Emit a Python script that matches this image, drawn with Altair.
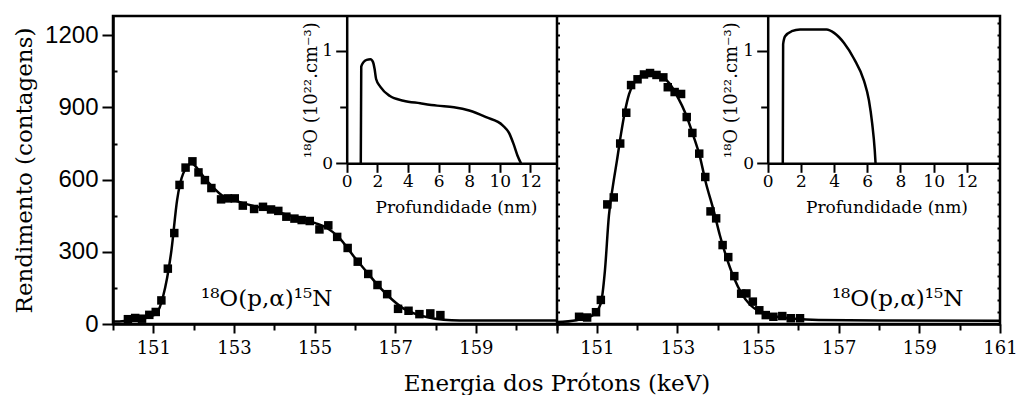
import altair as alt
import pandas as pd

# ---------------- data ----------------
LEFT_E = [150.37, 150.55, 150.72, 150.9, 151.06, 151.2, 151.36, 151.52, 151.65, 151.8,
          151.97, 152.12, 152.28, 152.44, 152.68, 152.85, 153.02, 153.22, 153.5, 153.72,
          153.92, 154.1, 154.3, 154.5, 154.68, 154.88, 155.12, 155.34, 155.56, 155.82,
          156.07, 156.33, 156.56, 156.8, 157.07, 157.33, 157.6, 157.87, 158.12]
LEFT_C = [20, 25, 22, 38, 50, 98, 230, 378, 578, 650,
          676, 630, 598, 565, 518, 522, 522, 492, 478, 487,
          476, 470, 446, 438, 432, 428, 393, 410, 362, 316,
          259, 208, 162, 124, 63, 55, 41, 44, 37]

LFIT_E = [150.0, 150.5, 150.9, 151.08, 151.24, 151.45, 151.59, 151.74, 151.95, 152.1,
          152.3, 152.5, 152.7, 153.0, 153.5, 154.0, 154.5, 155.0, 155.3, 155.6,
          156.0, 156.3, 156.6, 156.9, 157.2, 157.5, 157.8, 158.2, 158.6, 159.5, 161.0]
LFIT_C = [10, 16, 30, 44, 113, 307, 515, 625, 667, 645,
          600, 565, 535, 515, 490, 470, 445, 420, 400, 360,
          275, 215, 155, 105, 65, 42, 28, 18, 15, 15, 15]

RIGHT_E = [150.56, 150.76, 150.98, 151.1, 151.26, 151.42, 151.58, 151.73, 151.85, 152.01,
           152.17, 152.32, 152.48, 152.65, 152.76, 152.93, 153.09, 153.23, 153.37, 153.54,
           153.69, 153.82, 153.96, 154.12, 154.26, 154.41, 154.58, 154.71, 154.87, 155.03,
           155.19, 155.38, 155.6, 155.81, 156.04]
RIGHT_C = [30, 27, 49, 100, 497, 526, 750, 878, 993, 1017,
           1037, 1043, 1035, 1025, 984, 964, 956, 860, 794, 708,
           611, 468, 439, 328, 278, 199, 126, 127, 93, 57,
           37, 30, 33, 24, 24]

RFIT_E = [150.0, 150.5, 150.9, 151.1, 151.2, 151.3, 151.4, 151.5, 151.6, 151.7,
          151.8, 151.9, 152.05, 152.3, 152.5, 152.65, 152.8, 153.0, 153.2, 153.4,
          153.55, 153.7, 153.9, 154.05, 154.2, 154.4, 154.6, 154.8, 155.05, 155.4,
          155.9, 156.5, 158.0, 161.0]
RFIT_C = [8, 16, 37, 86, 220, 450, 575, 680, 790, 885,
          955, 995, 1028, 1045, 1040, 1025, 1000, 945, 875, 780,
          700, 590, 470, 370, 285, 192, 124, 80, 50, 32,
          22, 17, 15, 14]

LIN_D = [0.92, 0.95, 1.1, 1.3, 1.55, 1.72, 1.82, 1.92, 2.2, 2.8, 3.7, 4.8, 5.9, 7.0,
         8.0, 9.1, 10.2, 10.6, 10.9, 11.15, 11.38]
LIN_C = [0, 0.86, 0.9, 0.92, 0.925, 0.9, 0.84, 0.75, 0.68, 0.6, 0.557, 0.534, 0.513, 0.498,
         0.469, 0.41, 0.336, 0.27, 0.17, 0.07, 0]

RIN_D = [0.91, 0.93, 1.05, 1.45, 1.95, 3.0, 3.55, 4.0, 4.6, 5.2, 5.8, 6.1, 6.3, 6.45, 6.5]
RIN_C = [0, 1.06, 1.13, 1.175, 1.19, 1.19, 1.19, 1.16, 1.07, 0.93, 0.735, 0.56, 0.35, 0.12, 0]

ANNOT = "¹⁸O(p,α)¹⁵N"
ANNOT_E = [153.81, 158.46]
ANNOT_C = [75, 75]

X_TITLE = "Energia dos Prótons (keV)"
Y_TITLE = "Rendimento (contagens)"
INSET_X_TITLE = "Profundidade (nm)"
INSET_Y_TITLE = "¹⁸O (10²².cm⁻³)"

# ---------------- layout constants ----------------
W = 887
H = 308
LW = 443.5
YMAX = 1280
H_IN = 147.3
SERIF = "DejaVu Serif"
SANS = "Liberation Sans"
AX = dict(domainColor="black", domainWidth=2.5, tickColor="black", tickWidth=2,
          labelColor="black", titleColor="black", grid=False, titleFontWeight="normal",
          labelFontWeight="normal")


def xs(rng):
    return alt.Scale(domain=[150, 161], range=rng, nice=False, zero=False)


def ys():
    return alt.Scale(domain=[0, YMAX], range=[H, 0], nice=False, zero=False)


ODD_TICK = {"condition": {"test": "datum.value % 2 == 1", "value": 9}, "value": 6}

left_x_axis = alt.Axis(values=list(range(150, 162)),
                       labelExpr="(datum.value % 2 == 1 && datum.value < 160) ? datum.label : ''",
                       tickSize=ODD_TICK, labelFont=SERIF, labelFontSize=18, labelPadding=6,
                       labelFlush=False, labelOverlap=False, orient="bottom",
                       title=X_TITLE, titleFont=SERIF, titleFontSize=23, titleX=LW, titleY=66,
                       titleAlign="center", titleBaseline="alphabetic", **AX)
right_x_axis = alt.Axis(values=list(range(150, 162)),
                        labelExpr="datum.value % 2 == 1 ? datum.label : ''",
                        tickSize=ODD_TICK, labelFont=SERIF, labelFontSize=18, labelPadding=6,
                        labelFlush=False, labelOverlap=False, orient="bottom", title=None, **AX)
left_y_axis = alt.Axis(values=[0, 300, 600, 900, 1200], format="d", tickSize=11, labelPadding=4,
                       labelFont=SANS, labelFontSize=24, orient="left",
                       title=Y_TITLE, titleFont=SERIF, titleFontSize=23, titleX=-82, titleY=H / 2,
                       titleAlign="center", titleBaseline="alphabetic", **AX)
right_y_axis = alt.Axis(values=list(range(0, 1251, 50)), tickSize=3, labels=False,
                        orient="right", offset=-(W - LW), title=None, **AX)

# ---------------- main panels ----------------
left_df = pd.DataFrame({"e": LEFT_E, "c": LEFT_C})
lfit_df = pd.DataFrame({"e": LFIT_E, "c": LFIT_C})
right_df = pd.DataFrame({"e": RIGHT_E, "c": RIGHT_C})
rfit_df = pd.DataFrame({"e": RFIT_E, "c": RFIT_C})
ann_l = pd.DataFrame({"e": [ANNOT_E[0]], "c": [ANNOT_C[0]], "t": [ANNOT]})
ann_r = pd.DataFrame({"e": [ANNOT_E[1]], "c": [ANNOT_C[1]], "t": [ANNOT]})


def panel(fit, pts, ann, rng, xaxis, yaxis):
    line = alt.Chart(fit).mark_line(color="black", strokeWidth=2.5, interpolate="monotone").encode(
        x=alt.X("e:Q", scale=xs(rng), axis=xaxis),
        y=alt.Y("c:Q", scale=ys(), axis=yaxis))
    sq = alt.Chart(pts).mark_square(color="black", size=72, opacity=1).encode(
        x=alt.X("e:Q", scale=xs(rng), axis=None),
        y=alt.Y("c:Q", scale=ys(), axis=None))
    txt = alt.Chart(ann).mark_text(font=SERIF, fontSize=23, color="black", align="center",
                                   baseline="alphabetic").encode(
        x=alt.X("e:Q", scale=xs(rng), axis=None),
        y=alt.Y("c:Q", scale=ys(), axis=None),
        text="t:N")
    return [line, sq, txt]


left_layers = panel(lfit_df, left_df, ann_l, [0, LW], left_x_axis, left_y_axis)
right_layers = panel(rfit_df, right_df, ann_r, [LW, W], right_x_axis, right_y_axis)

# ---------------- insets ----------------


def inset(d, c, xmax, x0, x1, title_x, ytitle_x):
    df = pd.DataFrame({"d": d, "n": c})
    xaxis = alt.Axis(values=[0, 2, 4, 6, 8, 10, 12], tickSize=9, labelPadding=1,
                     labelFont=SERIF, labelFontSize=17, labelFlush=False, labelOverlap=False,
                     orient="bottom", offset=-(H - H_IN),
                     title=INSET_X_TITLE, titleFont=SERIF, titleFontSize=17, titleX=title_x,
                     titleY=48.7, titleAlign="center", titleBaseline="alphabetic", **AX)
    yaxis = alt.Axis(values=[0, 0.5, 1],
                     labelExpr="datum.value == 0 ? '0' : (datum.value == 1 ? '1' : '')",
                     tickSize={"condition": {"test": "datum.value == 0.5", "value": 7}, "value": 11},
                     labelPadding=3, labelFont=SERIF, labelFontSize=17, orient="left",
                     offset=-x0, title=INSET_Y_TITLE, titleFont=SERIF, titleFontSize=18,
                     titleX=ytitle_x, titleY=H_IN / 2, titleAlign="center",
                     titleBaseline="alphabetic", **AX)
    return alt.Chart(df).mark_line(color="black", strokeWidth=2.5, interpolate="monotone").encode(
        x=alt.X("d:Q", scale=alt.Scale(domain=[0, xmax], range=[x0, x1], nice=False, zero=False),
                axis=xaxis),
        y=alt.Y("n:Q", scale=alt.Scale(domain=[0, 1.31], range=[H_IN, 0], nice=False, zero=False),
                axis=yaxis))


left_inset = inset(LIN_D, LIN_C, 13.7, 233.7, LW, 343, -30)
right_inset = inset(RIN_D, RIN_C, 14.0, 654.7, W, 773.5, -31)

# ---------------- decorative inward ticks ----------------
dummy = pd.DataFrame({"c": [0]})
inner_left = alt.Chart(dummy).mark_point(opacity=0).encode(
    y=alt.Y("c:Q", scale=ys(), axis=alt.Axis(values=[150, 450, 750, 1050], tickSize=4, labels=False,
                                             domain=False, orient="right", offset=-W, title=None, **AX)))
inner_right = alt.Chart(dummy).mark_point(opacity=0).encode(
    y=alt.Y("c:Q", scale=ys(), axis=alt.Axis(values=list(range(0, 1251, 50)), tickSize=3, labels=False,
                                             domain=False, orient="left", offset=-W, title=None, **AX)))

chart = alt.layer(*left_layers, *right_layers, left_inset, right_inset, inner_left, inner_right).resolve_scale(
    x="independent", y="independent"
).properties(
    width=W, height=H,
    background="white",
    autosize=alt.AutoSizeParams(type="none"),
    padding={"left": 113, "top": 16, "right": 18, "bottom": 71},
).configure_view(
    stroke="black", strokeWidth=2.5
)

chart.save("out.html", embed_options={"renderer": "svg", "actions": False})
